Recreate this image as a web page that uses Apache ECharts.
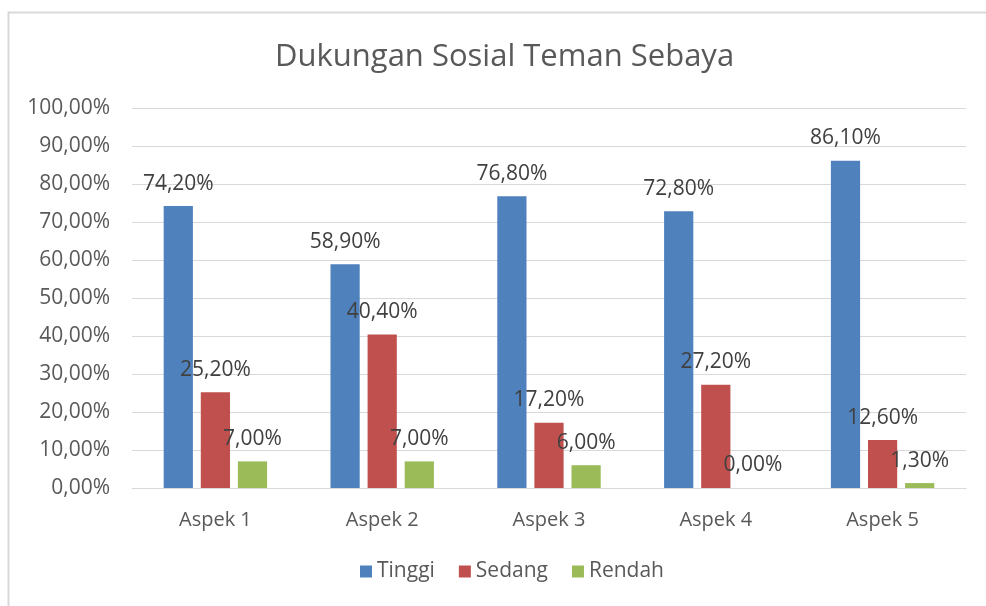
<!DOCTYPE html>
<html>
<head>
<meta charset="utf-8">
<script src="https://cdn.jsdelivr.net/npm/echarts@6/dist/echarts.min.js"></script>
<style>
  html, body { margin: 0; padding: 0; background: #fff; }
  #chart { width: 986px; height: 606px; }
</style>
</head>
<body>
<div id="chart"></div>
<script>
// data
const categories = ['Aspek 1', 'Aspek 2', 'Aspek 3', 'Aspek 4', 'Aspek 5'];
const tinggi = [74.2, 58.9, 76.8, 72.8, 86.1];
const sedang = [25.2, 40.4, 17.2, 27.2, 12.6];
const rendah = [7.0, 7.0, 6.0, 0.0, 1.3];

const fmt = v => v.toFixed(2).replace('.', ',') + '%';
const fontFamily = '"Open Sans", "Noto Sans", sans-serif';

const labelStyle = {
    show: true,
    position: 'top',
    distance: 12,
    fontSize: 21,
    fontFamily: fontFamily,
    color: '#404040',
    formatter: p => fmt(p.value)
};

function makeSeries (name, data, color) {
    return {
        name: name,
        type: 'bar',
        data: data,
        barGap: '27%',
        barCategoryGap: '38%',
        itemStyle: { color: color },
        label: labelStyle
    };
}

const chart = echarts.init(document.getElementById('chart'));
chart.setOption({
    animation: false,
    textStyle: { fontFamily: fontFamily },
    title: {
        text: 'Dukungan Sosial Teman Sebaya',
        left: 270,
        top: 37,
        textStyle: { fontSize: 31, fontWeight: 'normal', color: '#595959', fontFamily: fontFamily }
    },
    graphic: [{
        type: 'rect',
        left: 6,
        top: 10,
        shape: { width: 990, height: 610 },
        style: { fill: 'none', stroke: '#d9d9d9', lineWidth: 2 },
        silent: true
    }],
    legend: {
        bottom: 19,
        left: 355,
        itemWidth: 12,
        itemHeight: 12,
        itemGap: 24,
        icon: 'rect',
        textStyle: { fontSize: 21, color: '#595959', fontFamily: fontFamily },
        data: ['Tinggi', 'Sedang', 'Rendah']
    },
    grid: { left: 132, right: 20, top: 108, bottom: 118 },
    xAxis: {
        type: 'category',
        data: categories,
        axisTick: { show: false },
        axisLine: { lineStyle: { color: '#d9d9d9', width: 1 } },
        axisLabel: { fontSize: 20, color: '#595959', margin: 22, fontFamily: fontFamily }
    },
    yAxis: {
        type: 'value',
        min: 0,
        max: 100,
        interval: 10,
        axisLine: { show: false },
        axisTick: { show: false },
        splitLine: { lineStyle: { color: '#d9d9d9', width: 1 } },
        axisLabel: { fontSize: 21, color: '#595959', margin: 22, fontFamily: fontFamily, formatter: v => fmt(v) }
    },
    series: [
        makeSeries('Tinggi', tinggi, '#4f81bd'),
        makeSeries('Sedang', sedang, '#c0504d'),
        makeSeries('Rendah', rendah, '#9bbb59')
    ]
});
</script>
</body>
</html>
